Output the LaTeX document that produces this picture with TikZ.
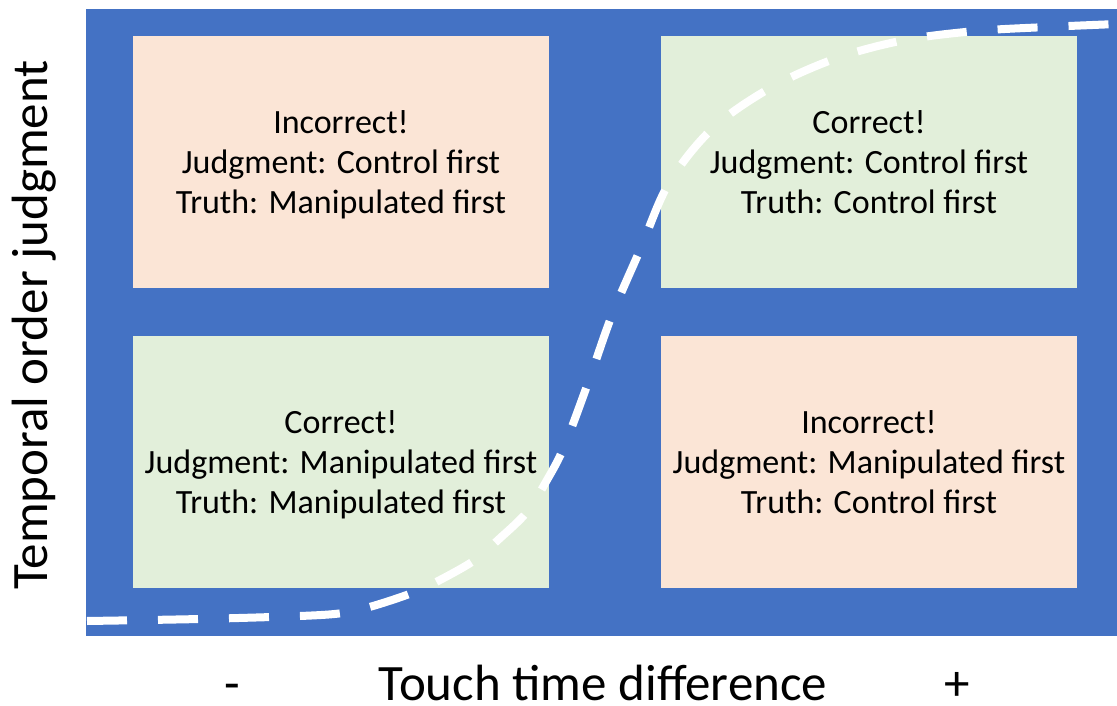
\documentclass[tikz,border=0pt]{standalone}
\usepackage{fontspec}
\setmainfont{Carlito}
\begin{document}
\definecolor{panelblue}{HTML}{4472C4}
\definecolor{wrongfill}{HTML}{FBE5D6}
\definecolor{rightfill}{HTML}{E2EFDA}
\begin{tikzpicture}[x=1pt,y=-1pt,
  quad/.style={minimum width=416pt,minimum height=252pt,inner sep=0pt},
  wrong/.style={quad,fill=wrongfill},
  right/.style={quad,fill=rightfill},
  quadtext/.style={inner sep=0pt,align=center,font=\fontsize{34}{40}\selectfont,text=black},
  axislabel/.style={font=\fontsize{51}{56}\selectfont,text=black,inner sep=0pt},
  curve/.style={white,line width=8pt,dash pattern=on 40pt off 31pt}]
\useasboundingbox (0,0) rectangle (1117,706);
% plotting area
\fill[panelblue] (86,9) rectangle (1117,636);
% four outcome quadrants
\node[wrong] (tl) at (341,162) {};
\node[right] (tr) at (869,162) {};
\node[right] (bl) at (341,462) {};
\node[wrong] (br) at (869,462) {};
\node[quadtext] (tltext) at ([yshift=-6pt]tl.center) {Incorrect!\\Judgment: Control first\\Truth: Manipulated first\strut};
\node[quadtext] (trtext) at ([yshift=-6pt]tr.center) {Correct!\\Judgment: Control first\\Truth: Control first\strut};
\node[quadtext] (bltext) at ([yshift=-6pt]bl.center) {Correct!\\Judgment: Manipulated first\\Truth: Manipulated first\strut};
\node[quadtext] (brtext) at ([yshift=-6pt]br.center) {Incorrect!\\Judgment: Manipulated first\\Truth: Control first\strut};
% psychometric curve
\draw[curve] plot[smooth,tension=0.55] coordinates {(87,621) (200,619) (300,616)
  (343,613) (373,606) (412,593) (440,580) (475,560) (498,540) (527,512) (547,480)
  (564,447) (588,383) (612,315) (640,250) (669,183) (713,128)
  (772,87) (837,58) (905,40) (976,31) (1047,27) (1117,24)};
% axis labels
\node[axislabel,anchor=base] (xl) at (603,700) {Touch time difference};
\node[axislabel,anchor=base] (minus) at (232,700) {-};
\node[axislabel,anchor=base] (plus) at (957,700) {+};
\node[axislabel,rotate=90,anchor=base] (yl) at (47,325) {Temporal order judgment};
\end{tikzpicture}
\end{document}
